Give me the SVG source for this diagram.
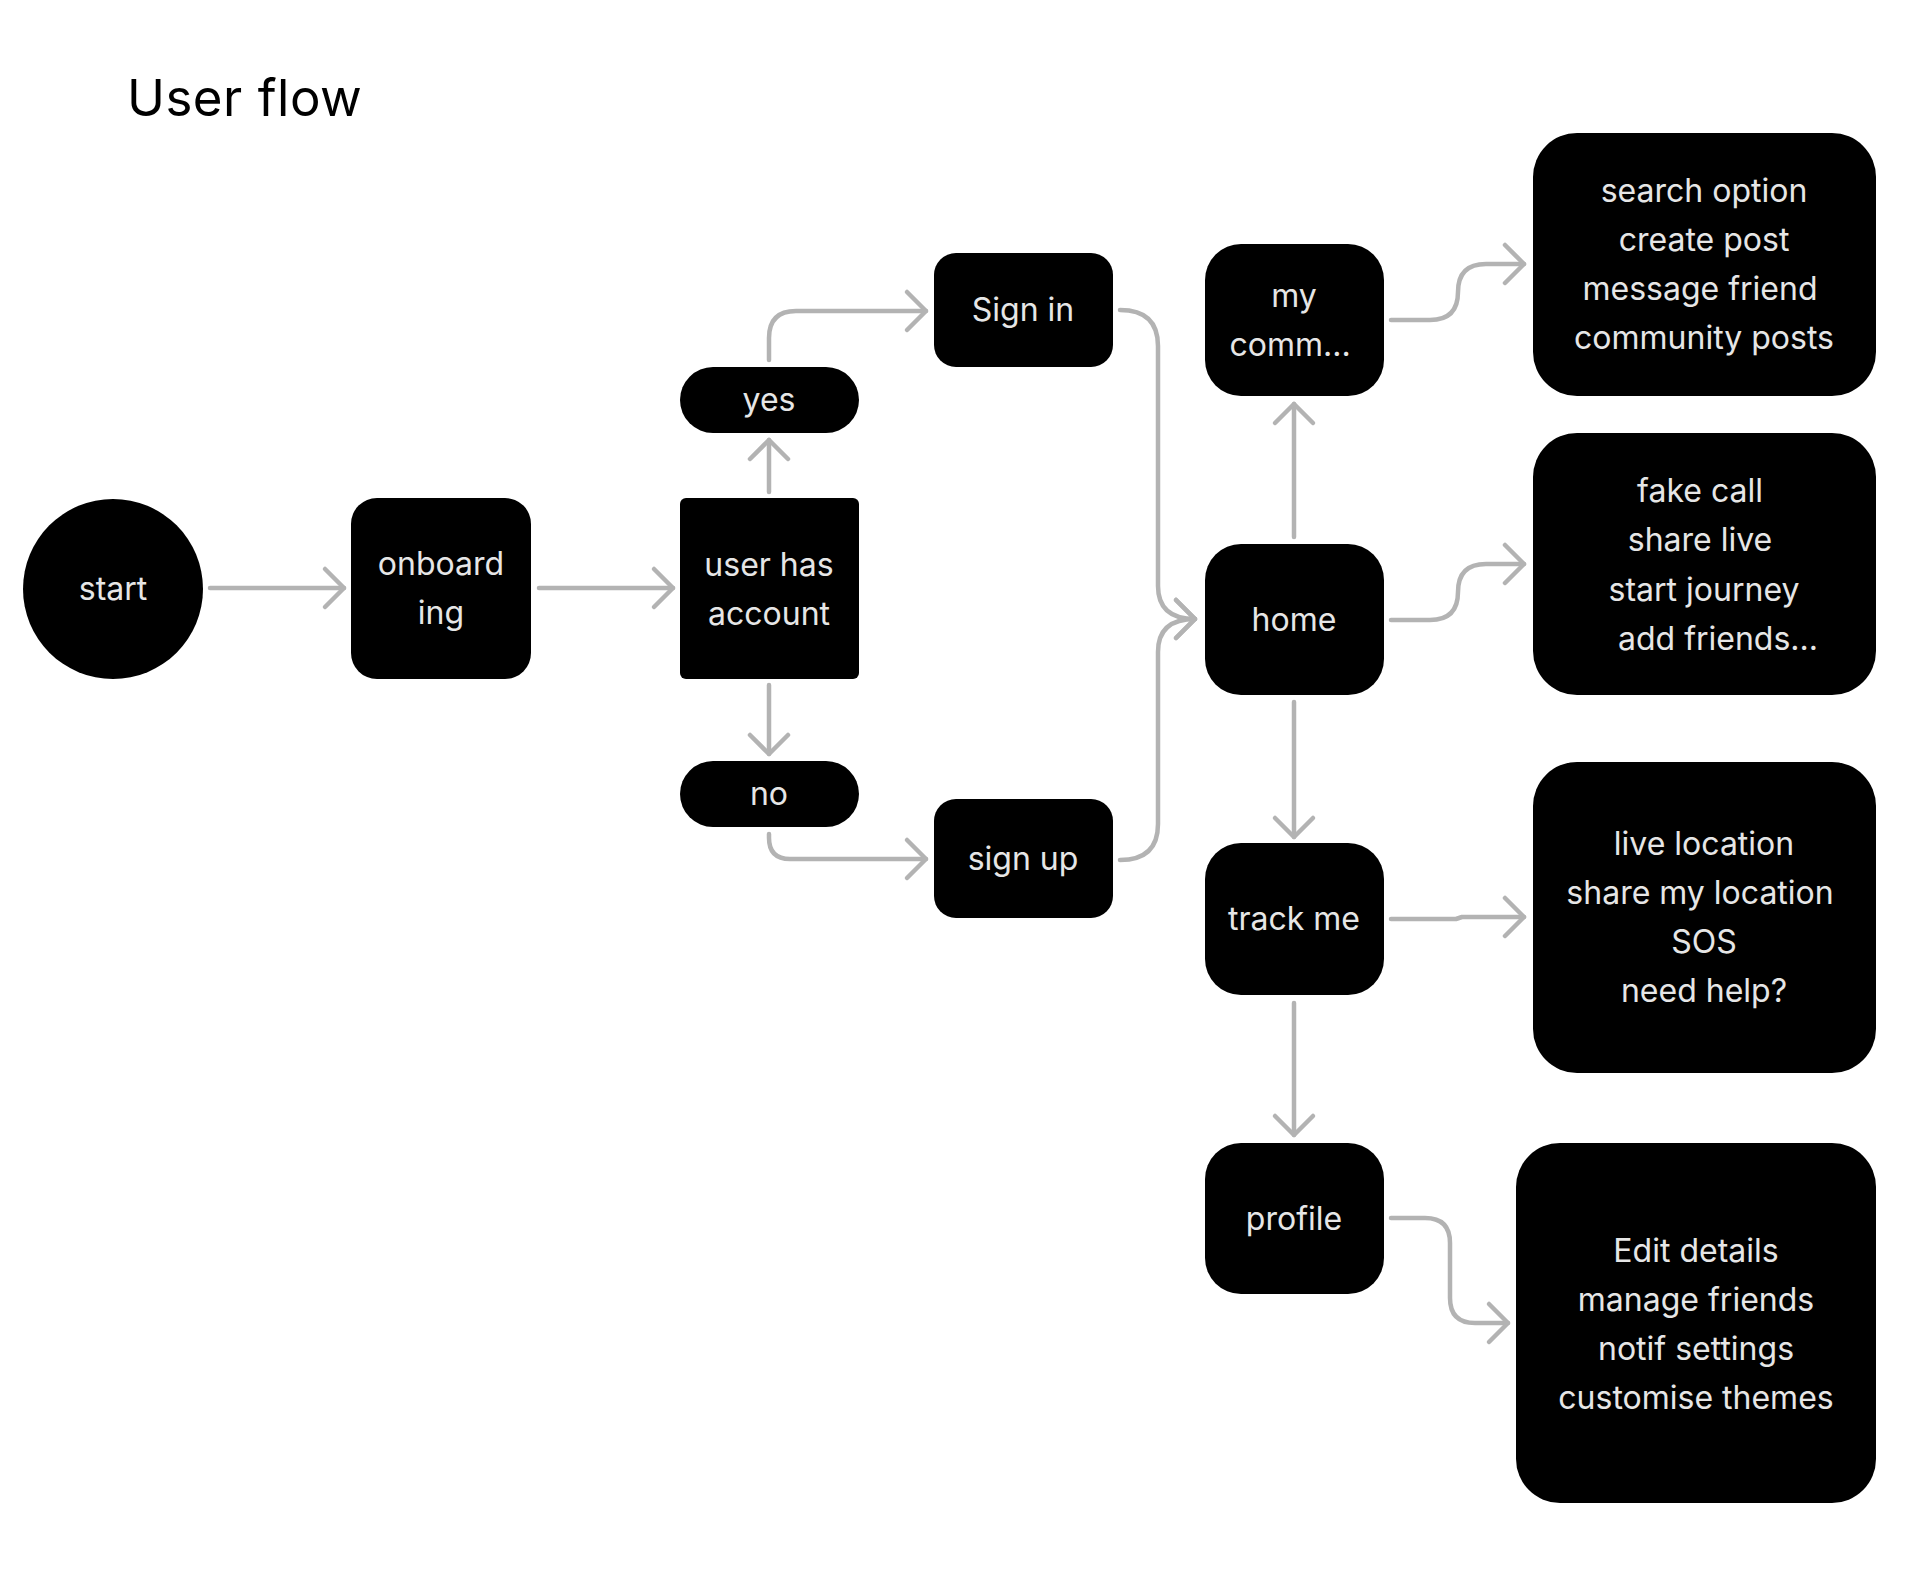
<svg xmlns="http://www.w3.org/2000/svg" width="1920" height="1569" viewBox="0 0 1920 1569">
<style>
.n{fill:#000}
.t{fill:#e6e6e6;font-family:Inter,"Liberation Sans",sans-serif;font-size:32px;text-anchor:middle}
.c{fill:none;stroke:#b3b3b3;stroke-width:4.5;stroke-linecap:round;stroke-linejoin:round}
.title{fill:#000;font-family:Inter,"Liberation Sans",sans-serif;font-size:51px;letter-spacing:0.5px}
</style>
<defs>
<marker id="ah" markerUnits="userSpaceOnUse" viewBox="-25 -25 30 50" markerWidth="30" markerHeight="50" refX="0" refY="0" orient="auto">
<path d="M-19,-19 L0,0 L-19,19" fill="none" stroke="#b3b3b3" stroke-width="4.5" stroke-linecap="round" stroke-linejoin="round"/>
</marker>
</defs>
<rect width="1920" height="1569" fill="#fff"/>
<text class="title" x="127" y="116">User flow</text>

<g id="connectors">
<path class="c" marker-end="url(#ah)" d="M210,588 L344,588"/>
<path class="c" marker-end="url(#ah)" d="M539,588 L673,588"/>
<path class="c" marker-end="url(#ah)" d="M769,492 L769,440"/>
<path class="c" marker-end="url(#ah)" d="M769,685 L769,754"/>
<path class="c" marker-end="url(#ah)" d="M769,360 L769,338 Q769,311 796,311 L926,311"/>
<path class="c" marker-end="url(#ah)" d="M769,834 L769,838 Q769,859 790,859 L926,859"/>
<path class="c" marker-end="url(#ah)" d="M1120,310 Q1158,310 1158,346 L1158,586 Q1158,619 1195,619"/>
<path class="c" marker-end="url(#ah)" d="M1120,860 Q1158,860 1158,824 L1158,652 Q1158,619 1195,619"/>
<path class="c" marker-end="url(#ah)" d="M1294,537 L1294,404"/>
<path class="c" marker-end="url(#ah)" d="M1294,702 L1294,837"/>
<path class="c" marker-end="url(#ah)" d="M1294,1003 L1294,1135"/>
<path class="c" marker-end="url(#ah)" d="M1391,320 L1430,320 Q1458,320 1458,292 Q1458,264 1486,264 L1524,264"/>
<path class="c" marker-end="url(#ah)" d="M1391,620 L1430,620 Q1458,620 1458,592 Q1458,564 1486,564 L1524,564"/>
<path class="c" marker-end="url(#ah)" d="M1391,919 L1456,919 L1462,917 L1524,917"/>
<path class="c" marker-end="url(#ah)" d="M1391,1218 L1425,1218 Q1450,1218 1450,1243 L1450,1298 Q1450,1323 1475,1323 L1508,1323"/>
</g>

<g id="start"><circle class="n" cx="113" cy="589" r="90"/><text class="t" x="113" y="600">start</text></g>
<g id="onboarding"><rect class="n" x="351" y="498" width="180" height="181" rx="26"/><text class="t" x="441" y="575">onboard</text><text class="t" x="441" y="624">ing</text></g>
<g id="user-has-account"><rect class="n" x="680" y="498" width="179" height="181" rx="6"/><text class="t" x="769" y="576">user has</text><text class="t" x="769" y="625">account</text></g>
<g id="yes"><rect class="n" x="680" y="367" width="179" height="66" rx="33"/><text class="t" x="769" y="411">yes</text></g>
<g id="no"><rect class="n" x="680" y="761" width="179" height="66" rx="33"/><text class="t" x="769" y="805">no</text></g>
<g id="sign-in"><rect class="n" x="934" y="253" width="179" height="114" rx="22"/><text class="t" x="1023" y="321">Sign in</text></g>
<g id="sign-up"><rect class="n" x="934" y="799" width="179" height="119" rx="22"/><text class="t" x="1023" y="870">sign up</text></g>
<g id="my-community"><rect class="n" x="1205" y="244" width="179" height="152" rx="36"/><text class="t" x="1294" y="307">my</text><text class="t" x="1290" y="356">comm...</text></g>
<g id="home"><rect class="n" x="1205" y="544" width="179" height="151" rx="36"/><text class="t" x="1294" y="631">home</text></g>
<g id="track-me"><rect class="n" x="1205" y="843" width="179" height="152" rx="36"/><text class="t" x="1294" y="930">track me</text></g>
<g id="profile"><rect class="n" x="1205" y="1143" width="179" height="151" rx="36"/><text class="t" x="1294" y="1230">profile</text></g>
<g id="community-features"><rect class="n" x="1533" y="133" width="343" height="263" rx="44"/>
<text class="t" x="1704" y="202">search option</text><text class="t" x="1704" y="251">create post</text><text class="t" x="1700" y="300">message friend</text><text class="t" x="1704" y="349">community posts</text></g>
<g id="home-features"><rect class="n" x="1533" y="433" width="343" height="262" rx="44"/>
<text class="t" x="1700" y="502">fake call</text><text class="t" x="1700" y="551">share live</text><text class="t" x="1704" y="601">start journey</text><text class="t" x="1718" y="650">add friends...</text></g>
<g id="track-features"><rect class="n" x="1533" y="762" width="343" height="311" rx="44"/>
<text class="t" x="1704" y="855">live location</text><text class="t" x="1700" y="904">share my location</text><text class="t" x="1704" y="953">SOS</text><text class="t" x="1704" y="1002">need help?</text></g>
<g id="profile-features"><rect class="n" x="1516" y="1143" width="360" height="360" rx="44"/>
<text class="t" x="1696" y="1262">Edit details</text><text class="t" x="1696" y="1311">manage friends</text><text class="t" x="1696" y="1360">notif settings</text><text class="t" x="1696" y="1409">customise themes</text></g>
</svg>
